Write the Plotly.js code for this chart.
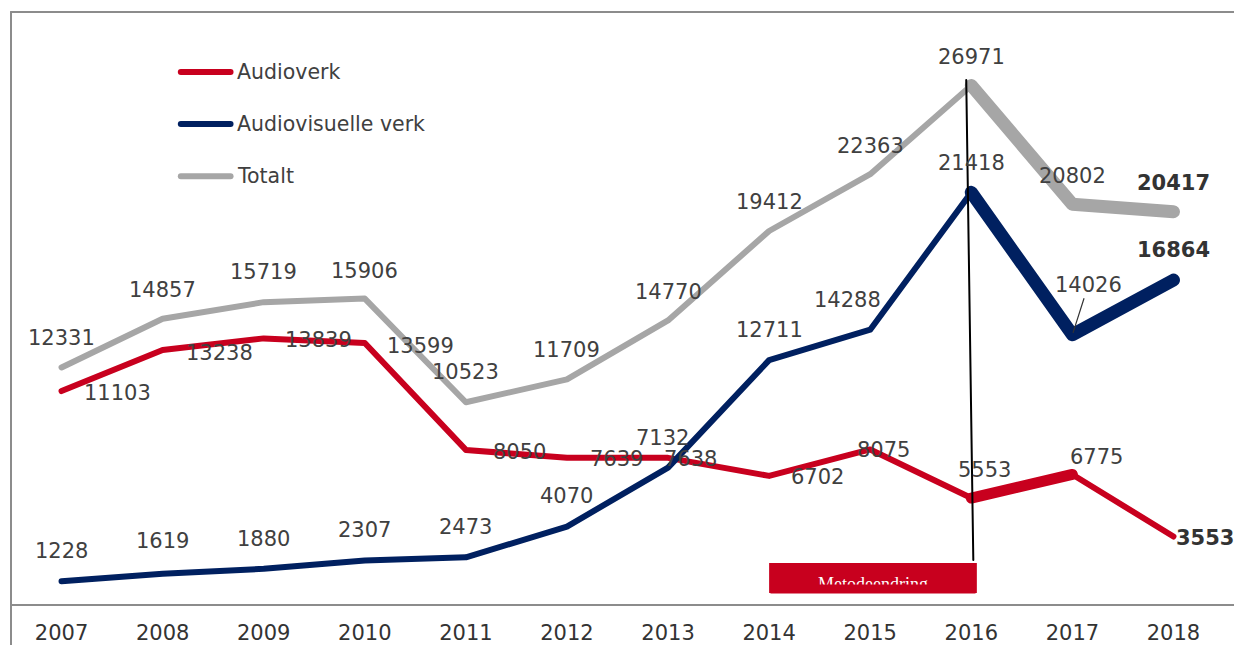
<!DOCTYPE html>
<html>
<head>
<meta charset="utf-8">
<script src="https://cdn.plot.ly/plotly-3.0.1.min.js"></script>
<style>
  html, body { margin:0; padding:0; background:#fff; }
  #chart { width:1234px; height:645px; }
  #chart path.js-line { stroke-linecap: round; stroke-linejoin: round; }
  #chart .shapelayer path { stroke-linecap: round; }
</style>
</head>
<body>
<div id="chart"></div>
<script>
// data
const years = ['2007','2008','2009','2010','2011','2012','2013','2014','2015','2016','2017','2018'];
const audioverk = [11103, 13238, 13839, 13599, 8050, 7639, 7638, 6702, 8075, 5553, 6775, 3553];
const audiovisuelle = [1228, 1619, 1880, 2307, 2473, 4070, 7132, 12711, 14288, 21418, 14026, 16864];
const totalt = [12331, 14857, 15719, 15906, 10523, 11709, 14770, 19412, 22363, 26971, 20802, 20417];
const seriesNames = ['Audioverk', 'Audiovisuelle verk', 'Totalt'];
const noteText = 'Metodeendring';

// label offsets in px [dx, dy] (positive dy = up)
const redShift = [[56,-2],[57,-3],[55,-2],[56,-3],[54,-2],[50,-1],[22,-1],[48,-1],[13,-1],[13,28],[24,17],[32,-1]];
const blueShift = [[0,30],[0,33],[0,30],[0,31],[0,30],[0,31],[-6,30],[0,30],[-23,30],[0,29],[16,50],[0,30]];
const grayShift = [[0,29],[0,29],[0,30],[0,28],[0,30],[0,29],[0,28],[0,29],[0,28],[0,28],[0,28],[0,29]];

const RED = '#C8001E', NAVY = '#002060', GRAY = '#A6A6A6', TXT = '#404040', FRAME = '#8C8C8C';
const FONT = 'DejaVu Sans, Verdana, sans-serif';

function line(y, color, width, from, to){
  return {
    x: years.slice(from, to), y: y.slice(from, to), type:'scatter', mode:'lines',
    line:{color, width}, hoverinfo:'skip', showlegend:false
  };
}

const traces = [
  line(audioverk, RED, 6, 0, 10),
  line(audioverk, RED, 11, 9, 11),
  line(audioverk, RED, 6, 10, 12),
  line(audiovisuelle, NAVY, 6, 0, 10),
  line(audiovisuelle, NAVY, 13, 9, 12),
  line(totalt, GRAY, 6, 0, 10),
  line(totalt, GRAY, 13, 9, 12)
];

// category axis: annotations use the category index
function labels(vals, shifts){
  return vals.map((v, i) => {
    const last = i === vals.length - 1;
    return {
      x: i, y: v, xref:'x', yref:'y', text: last ? '<b>' + v + '</b>' : String(v),
      showarrow:false, xshift: shifts[i][0], yshift: shifts[i][1],
      font:{family:FONT, size:21, color: last ? '#333' : TXT}
    };
  });
}

const annotations = [
  ...labels(audioverk, redShift),
  ...labels(audiovisuelle, blueShift).map((a, i) => i === 10 ? Object.assign(a, {
    showarrow:true, arrowhead:0, arrowwidth:1.2, arrowcolor:'#333', ax:16, ay:-50, xshift:0, yshift:0, standoff:2
  }) : a),
  ...labels(totalt, grayShift)
];

// legend (drawn by hand like the original)
const legendColors = [RED, NAVY, GRAY];
const legendY = [0.899, 0.811, 0.723];
const shapes = [];
seriesNames.forEach((n, i) => {
  shapes.push({type:'line', xref:'paper', yref:'paper', x0:0.140, x1:0.181, y0:legendY[i], y1:legendY[i],
    line:{color:legendColors[i], width:6}});
  annotations.push({xref:'paper', yref:'paper', x:0.1845, y:legendY[i], xanchor:'left', yanchor:'middle',
    text:n, showarrow:false, font:{family:FONT, size:20.5, color:TXT}});
});

// frame
shapes.push({type:'line', xref:'paper', yref:'paper', x0:0, x1:1.02, y0:1, y1:1, line:{color:FRAME, width:2}});
shapes.push({type:'line', xref:'paper', yref:'paper', x0:0, x1:1.02, y0:0, y1:0, line:{color:FRAME, width:2}});
shapes.push({type:'line', xref:'paper', yref:'paper', x0:0, x1:0, y0:-0.08, y1:1, line:{color:FRAME, width:2}});

// method change marker
shapes.push({type:'rect', xref:'x', yref:'y', x0:7, x1:9.055, y0:623, y1:2180, fillcolor:RED, line:{width:0}, layer:'above'});
shapes.push({type:'line', xref:'x', yref:'y', x0:8.95, x1:9.02, y0:27250, y1:2330, line:{color:'#000', width:2}, layer:'above'});
annotations.push({x:8.03, y:1090, xref:'x', yref:'y', text:noteText, showarrow:false, yanchor:'middle',
  font:{family:'Liberation Serif, Times New Roman, serif', size:18, color:'#fff'}});
// the box clips the lower part of the label in the original
annotations.push({x:8.03, y:830, xref:'x', yref:'y', text:' ', showarrow:false, width:204, height:8,
  borderpad:0, bgcolor:RED, font:{size:4}});

const layout = {
  width:1234, height:645,
  margin:{l:11, r:10, t:12, b:40},
  paper_bgcolor:'#fff', plot_bgcolor:'#fff',
  showlegend:false,
  xaxis:{type:'category', range:[-0.5, 11.5], showgrid:false, zeroline:false,
    showline:false, ticks:'', ticklen:0, ticklabelstandoff:13,
    tickfont:{family:FONT, size:21, color:'#333'}},
  yaxis:{range:[0, 30780], visible:false, showgrid:false, zeroline:false},
  shapes, annotations
};

Plotly.newPlot('chart', traces, layout, {displayModeBar:false, staticPlot:true});
</script>
</body>
</html>
